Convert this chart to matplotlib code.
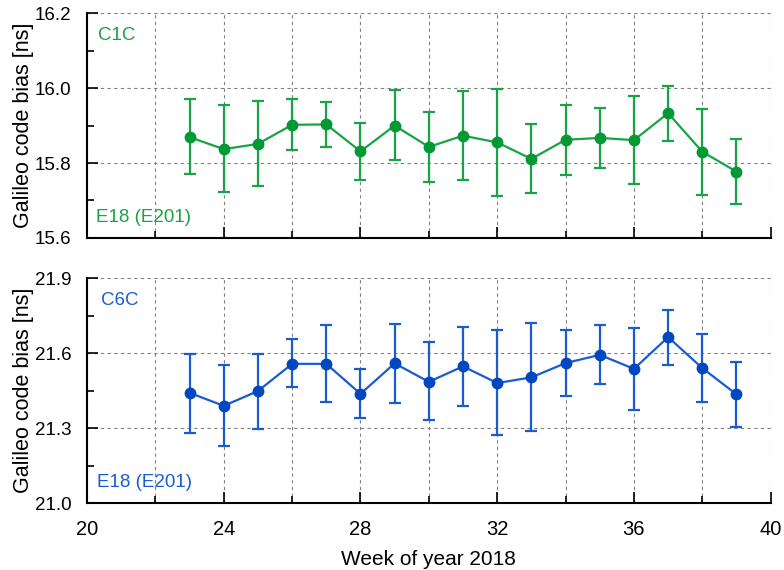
import matplotlib
matplotlib.use("Agg")
import matplotlib.pyplot as plt
from matplotlib.ticker import MultipleLocator, FixedLocator, FormatStrFormatter

plt.rcParams['font.family'] = ['Liberation Sans', 'DejaVu Sans']

weeks = [23, 24, 25, 26, 27, 28, 29, 30, 31, 32, 33, 34, 35, 36, 37, 38, 39]

c1c_val = [15.869, 15.837, 15.851, 15.902, 15.903, 15.831, 15.900, 15.843, 15.873,
           15.855, 15.811, 15.862, 15.867, 15.861, 15.933, 15.830, 15.777]
c1c_hi = [15.971, 15.955, 15.966, 15.970, 15.963, 15.907, 15.994, 15.936, 15.991,
          15.997, 15.904, 15.955, 15.947, 15.979, 16.006, 15.945, 15.865]
c1c_lo = [15.770, 15.723, 15.738, 15.835, 15.843, 15.756, 15.807, 15.749, 15.756,
          15.713, 15.719, 15.768, 15.787, 15.743, 15.860, 15.715, 15.691]

c6c_val = [21.441, 21.389, 21.448, 21.557, 21.557, 21.437, 21.559, 21.485, 21.547,
           21.480, 21.503, 21.560, 21.593, 21.537, 21.664, 21.540, 21.435]
c6c_hi = [21.597, 21.552, 21.596, 21.655, 21.711, 21.536, 21.716, 21.643, 21.703,
          21.692, 21.720, 21.693, 21.711, 21.701, 21.772, 21.676, 21.564]
c6c_lo = [21.281, 21.227, 21.296, 21.463, 21.404, 21.339, 21.401, 21.331, 21.388,
          21.271, 21.287, 21.429, 21.476, 21.371, 21.553, 21.404, 21.304]

green = '#1aa345'
green_d = '#009933'
blue = '#1a5cd0'
blue_d = '#0047c0'

fig = plt.figure(figsize=(7.84, 5.70), dpi=100)
ax1 = fig.add_axes([0.111, 0.5825, 0.872, 0.3945])
ax2 = fig.add_axes([0.111, 0.1175, 0.872, 0.3945])

def style(ax, ylim, ymaj, ymin):
    ax.set_xlim(20, 40)
    ax.set_ylim(*ylim)
    ax.xaxis.set_major_locator(MultipleLocator(4))
    ax.xaxis.set_minor_locator(FixedLocator([22, 26, 30, 34, 38]))
    ax.yaxis.set_major_locator(MultipleLocator(ymaj))
    ax.yaxis.set_minor_locator(MultipleLocator(ymin))
    ax.yaxis.set_major_formatter(FormatStrFormatter('%.1f'))
    ax.tick_params(which='both', direction='in', top=False, right=False, width=1.2)
    ax.tick_params(which='major', length=8)
    ax.tick_params(which='minor', length=5)
    ax.tick_params(axis='y', which='major', labelsize=13.5, pad=11)
    ax.tick_params(axis='x', which='major', labelsize=14.5, pad=12)
    for s in ['top', 'right']:
        ax.spines[s].set_visible(False)
    for s in ['left', 'bottom']:
        ax.spines[s].set_linewidth(1.5)
    ax.grid(True, which='major', axis='both', linestyle=(0, (3, 3)), color='#808080', linewidth=0.8)
    ax.grid(True, which='minor', axis='x', linestyle=(0, (3, 3)), color='#808080', linewidth=0.8)
    ax.set_axisbelow(True)
    ax.set_ylabel('Galileo code bias [ns]', fontsize=15.5, labelpad=1)

def plot(ax, vals, hi, lo, col, cold):
    yerr = [[v - l for v, l in zip(vals, lo)], [h - v for v, h in zip(vals, hi)]]
    ax.errorbar(weeks, vals, yerr=yerr, color=col, ecolor=col, elinewidth=1.6,
                capsize=4.5, capthick=1.6, linewidth=1.6, marker='o', markersize=7.5,
                markerfacecolor=cold, markeredgecolor=cold, clip_on=False, zorder=3)

style(ax1, (15.6, 16.2), 0.2, 0.1)
plot(ax1, c1c_val, c1c_hi, c1c_lo, green, green_d)
ax1.tick_params(axis='x', labelbottom=False)
ax1.text(0.016, 0.88, 'C1C', transform=ax1.transAxes, color=green, fontsize=13.5, va='baseline')
ax1.text(0.013, 0.072, 'E18 (E201)', transform=ax1.transAxes, color=green, fontsize=13.5, va='baseline')

style(ax2, (21.0, 21.9), 0.3, 0.15)
plot(ax2, c6c_val, c6c_hi, c6c_lo, blue, blue_d)
ax2.text(0.02, 0.88, 'C6C', transform=ax2.transAxes, color=blue, fontsize=13.5, va='baseline')
ax2.text(0.015, 0.071, 'E18 (E201)', transform=ax2.transAxes, color=blue, fontsize=13.5, va='baseline')
ax2.set_xlabel('Week of year 2018', fontsize=15, labelpad=8)

fig.savefig('out.png', dpi=100)
